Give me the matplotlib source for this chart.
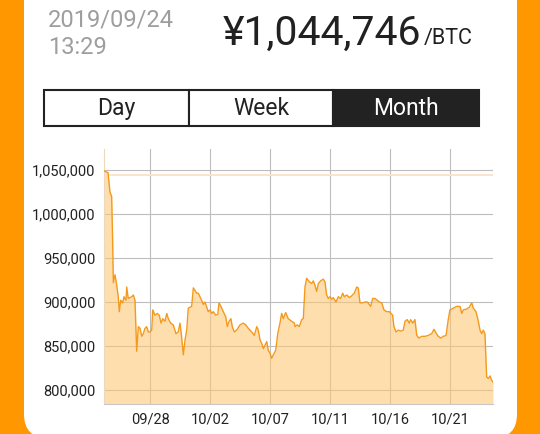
import matplotlib
matplotlib.use('Agg')
import matplotlib.pyplot as plt
from matplotlib.patches import Rectangle, FancyBboxPatch
from matplotlib.transforms import IdentityTransform
import numpy as np

# price history (days since 2019/09/24 13:29, JPY per BTC)
days = [0.00, 0.31, 0.46, 0.59, 0.67, 0.72, 0.85, 0.98, 1.10, 1.18,
        1.29, 1.44, 1.54, 1.70, 1.75, 1.87, 2.14, 2.26, 2.39, 2.52,
        2.65, 2.78, 2.91, 3.03, 3.16, 3.29, 3.42, 3.55, 3.68, 3.76,
        3.93, 4.11, 4.26, 4.40, 4.53, 4.70, 4.84, 4.96, 5.14, 5.34,
        5.55, 5.73, 5.86, 5.96, 6.12, 6.25, 6.38, 6.50, 6.76, 6.89,
        7.15, 7.27, 7.53, 7.66, 7.79, 8.04, 8.17, 8.31, 8.43, 8.61,
        8.77, 8.87, 9.02, 9.20, 9.39, 9.51, 9.64, 9.79, 9.89, 10.05,
        10.23, 10.49, 10.74, 10.93, 11.13, 11.39, 11.59, 11.78, 11.90, 12.03,
        12.16, 12.29, 12.42, 12.55, 12.67, 12.80, 12.93, 13.06, 13.24, 13.40,
        13.57, 13.70, 13.83, 14.01, 14.21, 14.48, 14.68, 14.73, 14.91, 15.06,
        15.25, 15.37, 15.50, 15.63, 15.83, 16.02, 16.14, 16.27, 16.40, 16.53,
        16.71, 16.91, 17.04, 17.17, 17.30, 17.43, 17.56, 17.68, 17.89, 18.07,
        18.25, 18.41, 18.53, 18.72, 18.92, 19.10, 19.30, 19.49, 19.61, 19.74,
        19.95, 20.13, 20.31, 20.46, 20.57, 20.72, 20.90, 21.08, 21.23, 21.42,
        21.59, 21.80, 22.00, 22.26, 22.36, 22.52, 22.70, 22.88, 23.08, 23.21,
        23.39, 23.54, 23.65, 23.81, 23.98, 24.12, 24.29, 24.50, 24.76, 25.01,
        25.27, 25.45, 25.60, 25.78, 25.97, 26.17, 26.38, 26.55, 26.68, 26.94,
        27.20, 27.46, 27.59, 27.71, 27.97, 28.17, 28.36, 28.48, 28.69, 28.87,
        29.00, 29.13, 29.25, 29.38, 29.51, 29.64, 29.77, 29.90, 30.00]
price = [1049000, 1047000, 1025000, 1020000, 967000, 922000, 931000, 919000, 906000, 889000,
         902000, 899000, 906000, 902000, 917000, 904000, 906000, 908000, 902000, 844000,
         872000, 870000, 861000, 864000, 870000, 872000, 866000, 866000, 868000, 891000,
         885000, 887000, 885000, 876000, 881000, 878000, 887000, 881000, 876000, 874000,
         864000, 866000, 876000, 864000, 840000, 857000, 868000, 893000, 895000, 916000,
         910000, 910000, 902000, 897000, 900000, 889000, 891000, 887000, 889000, 885000,
         886000, 899000, 895000, 889000, 883000, 872000, 878000, 881000, 872000, 866000,
         868000, 874000, 876000, 874000, 870000, 866000, 862000, 872000, 868000, 857000,
         853000, 847000, 851000, 855000, 845000, 842000, 836000, 840000, 845000, 864000,
         876000, 887000, 881000, 888000, 881000, 878000, 876000, 872000, 874000, 872000,
         880000, 881000, 917000, 927000, 923000, 921000, 924000, 919000, 912000, 921000,
         924000, 926000, 923000, 908000, 904000, 906000, 903000, 905000, 900000, 906000,
         904000, 910000, 906000, 908000, 905000, 907000, 910000, 917000, 916000, 899000,
         899000, 900000, 900000, 897000, 895000, 904000, 904000, 902000, 900000, 899000,
         891000, 889000, 889000, 885000, 872000, 866000, 868000, 867000, 868000, 878000,
         880000, 876000, 880000, 876000, 880000, 862000, 859000, 861000, 861000, 862000,
         864000, 869000, 865000, 861000, 859000, 861000, 862000, 880000, 891000, 893000,
         895000, 895000, 887000, 891000, 892000, 894000, 899000, 893000, 889000, 878000,
         868000, 864000, 868000, 864000, 815000, 813000, 816000, 811000, 809000]
current = 1044746
tick_pos = [3.55, 8.17, 12.80, 17.43, 22.05, 26.68]
tick_labels = ['09/28', '10/02', '10/07', '10/11', '10/16', '10/21']
y_ticks = [800000, 850000, 900000, 950000, 1000000, 1050000]
periods = ['Day', 'Week', 'Month']

plt.rcParams['font.family'] = ['Roboto', 'DejaVu Sans']

W, H = 540, 434
fig = plt.figure(figsize=(W / 100, H / 100), dpi=100, facecolor='#FF9800')

def fx(x):
    return x / W

def fy(y):
    return 1 - y / H

# white card with rounded bottom corners (behind everything)
card = FancyBboxPatch((24, -4), 493, 500, boxstyle='round,pad=0,rounding_size=24',
                      transform=IdentityTransform(), facecolor='white', edgecolor='none',
                      zorder=-10)
fig.patches.append(card)

# header
fig.text(fx(48), fy(27), '2019/09/24', fontsize=17, color='#9e9e9e', va='baseline')
fig.text(fx(48), fy(54), '13:29', fontsize=17, color='#9e9e9e', va='baseline')
fig.text(fx(223), fy(45), '\u00a5{:,}'.format(current), fontsize=29.5, color='#212121', va='baseline')
fig.text(fx(424), fy(44), '/BTC', fontsize=15.5, color='#212121', va='baseline')

# period selector
edges = [44, 189, 333, 479]
for i, name in enumerate(periods):
    sel = name == 'Month'
    r = Rectangle((fx(edges[i]), fy(126)), fx(edges[i + 1] - edges[i]), 36 / H,
                  transform=fig.transFigure, facecolor='#222222' if sel else 'white',
                  edgecolor='#222222', lw=1.5)
    fig.patches.append(r)
    fig.text(fx((edges[i] + edges[i + 1]) / 2), fy(108.5), name, fontsize=16.5,
             color='white' if sel else '#222222', ha='center', va='center')

# chart
ax = fig.add_axes([fx(104), fy(404), fx(389), 255 / H])
ax.set_zorder(5)
y_lo, y_hi = 784090, 1073864
ax.set_xlim(0, 30)
ax.set_ylim(y_lo, y_hi)
ax.set_facecolor('white')
ax.grid(True, color='#bdbdbd', lw=0.8)
ax.set_axisbelow(True)
ax.fill_between(days, price, y_lo, color='#FFC878', alpha=0.6, lw=0, zorder=2)
ax.plot(days, price, color='#F39A1E', lw=1.0, zorder=3)
ax.axhline(current, color='#FDE1C4', lw=1.3, zorder=2.5)

ax.set_xticks(tick_pos)
ax.set_xticklabels(tick_labels)
ax.set_yticks(y_ticks)
ax.set_yticklabels(['{:,}'.format(v) for v in y_ticks])
ax.tick_params(length=0, labelsize=10.5, labelcolor='#222222', pad=6)
for s in ['top', 'right']:
    ax.spines[s].set_visible(False)
ax.spines['left'].set_color('#ecd9bd')
ax.spines['bottom'].set_color('#c8c8c8')
ax.spines['left'].set_linewidth(0.8)
ax.spines['bottom'].set_linewidth(0.8)

fig.savefig('out.png', dpi=100, facecolor=fig.get_facecolor())
